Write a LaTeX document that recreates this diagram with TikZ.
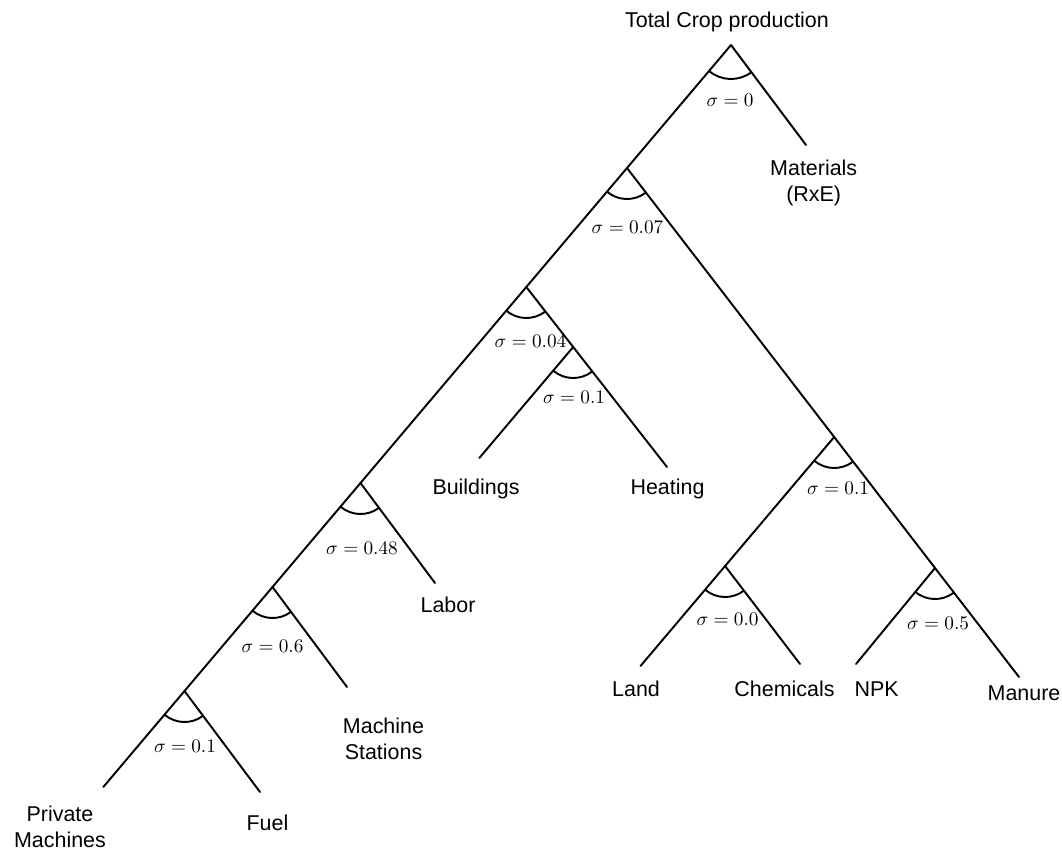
\documentclass[tikz,border=0pt]{standalone}
\usepackage[no-math]{fontspec}
\setmainfont{Liberation Sans}
\usepackage{amsmath}
\tikzset{
  branch/.style={line width=1.1pt, line cap=round, draw=black},
  cesarc/.style={line width=1.1pt, draw=black},
  sigmalabel/.style={font=\fontsize{10.6}{12}\selectfont, inner sep=1pt}
}

\begin{document}
\begin{tikzpicture}[
  x=0.02cm, y=-0.02cm,
  leaf/.style={font=\fontsize{12.2}{14.8}\selectfont, align=center, inner sep=1pt}
]
\useasboundingbox (0,0) rectangle (1062,850);

% Nesting points
\coordinate (n1) at (731,45);
\coordinate (n2) at (627,168);
\coordinate (n3) at (526.3,287);
\coordinate (n4) at (573.2,347);
\coordinate (n5) at (360.5,483);
\coordinate (n6) at (272.5,587);
\coordinate (n7) at (184.5,691);
\coordinate (n8) at (834.2,437);
\coordinate (n9) at (725.1,566);
\coordinate (n10) at (935,568);

% Free ends of the branches
\coordinate (mat) at (806,145);
\coordinate (heat) at (667,467);
\coordinate (bld) at (479.3,458);
\coordinate (lab) at (435,583);
\coordinate (ms) at (347,687);
\coordinate (pm) at (103.3,787);
\coordinate (fuel) at (260,792);
\coordinate (land) at (640.5,666);
\coordinate (chem) at (800,664);
\coordinate (npk) at (856,664);
\coordinate (man) at (1019,677);

% Left trunk and its right offshoots
\draw[branch] (n1) -- (n2) -- (n3) -- (n5) -- (n6) -- (n7) -- (pm);
\draw[branch] (n1) -- (mat);
\draw[branch] (n3) -- (n4) -- (heat);
\draw[branch] (n4) -- (bld);
\draw[branch] (n5) -- (lab);
\draw[branch] (n6) -- (ms);
\draw[branch] (n7) -- (fuel);
% Land/materials side
\draw[branch] (n2) -- (n8) -- (n10) -- (man);
\draw[branch] (n8) -- (n9) -- (land);
\draw[branch] (n9) -- (chem);
\draw[branch] (n10) -- (npk);

% Elasticity arcs
\draw[cesarc] (n1) ++(230:0.68cm) arc[start angle=230, end angle=307, radius=0.68cm];
\foreach \j in {n2,n3,n4,n5,n6,n7,n8,n9,n10}
  \draw[cesarc] (\j) ++(230:0.62cm) arc[start angle=230, end angle=307, radius=0.62cm];

% Substitution elasticities
\node[sigmalabel] (s1) at (730,100) {$\sigma = 0$};
\node[sigmalabel] (s2) at (627.5,227) {$\sigma = 0.07$};
\node[sigmalabel] (s3) at (530.5,341) {$\sigma = 0.04$};
\node[sigmalabel] (s4) at (574,397) {$\sigma = 0.1$};
\node[sigmalabel] (s5) at (362,548) {$\sigma = 0.48$};
\node[sigmalabel] (s6) at (272.5,646) {$\sigma = 0.6$};
\node[sigmalabel] (s7) at (185,746) {$\sigma = 0.1$};
\node[sigmalabel] (s8) at (838,488) {$\sigma = 0.1$};
\node[sigmalabel] (s9) at (727.5,619) {$\sigma = 0.0$};
\node[sigmalabel] (s10) at (938,623) {$\sigma = 0.5$};

% Inputs and output
\node[leaf] (total) at (727,22) {Total Crop production};
\node[leaf] (materials) at (813.7,182.5) {Materials\\(RxE)};
\node[leaf] (buildings) at (476,489) {Buildings};
\node[leaf] (heating) at (667.5,489) {Heating};
\node[leaf] (labor) at (448,605) {Labor};
\node[leaf] (stations) at (383.5,738.5) {Machine\\Stations};
\node[leaf] (private) at (60,827) {Private\\Machines};
\node[leaf] (fuelname) at (267.5,823) {Fuel};
\node[leaf] (landname) at (636,689) {Land};
\node[leaf] (chemicals) at (784.5,689) {Chemicals};
\node[leaf] (npkname) at (876.7,689) {NPK};
\node[leaf] (manure) at (1024,693) {Manure};
\end{tikzpicture}
\end{document}
